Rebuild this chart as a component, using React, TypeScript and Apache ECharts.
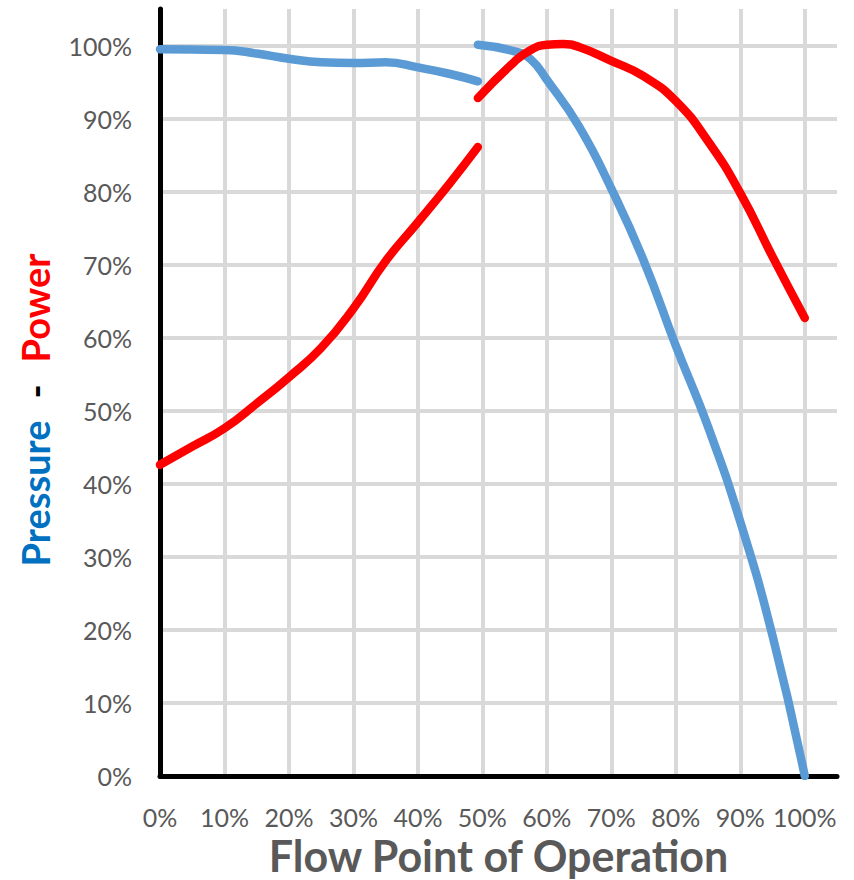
import React, { useEffect, useRef } from "react";
import * as echarts from "echarts";

// Flow point of operation (% of max flow) and curve values (%)
const pressureFlowA = [0, 5, 10, 15, 20, 25, 30, 35, 40, 45, 49.3];
const pressureA = [99.5, 99.45, 99.4, 98.9, 98.2, 97.7, 97.6, 97.7, 97.0, 96.1, 95.1];

const pressureFlowB = [49.3, 55, 57.5, 60, 65, 70, 75, 80, 85, 90, 95, 100];
const pressureB = [100.1, 99.2, 98.1, 95.3, 88.9, 80.4, 70.6, 58.9, 47.8, 34.8, 19.2, 0];

const powerFlowA = [0, 5, 10, 15, 20, 25, 30, 35, 40, 45, 49.3];
const powerA = [42.6, 45.1, 47.6, 51.0, 54.6, 58.6, 64.0, 70.5, 75.8, 81.2, 86.1];

const powerFlowB = [49.3, 55, 57.5, 60, 62.5, 65, 70, 75, 80, 85, 90, 95, 100];
const powerB = [92.8, 97.8, 99.4, 100.1, 100.2, 99.8, 97.9, 95.8, 92.4, 86.9, 79.8, 71.1, 62.7];

const xTitle = "Flow Point of Operation";
const yTitleParts = ["Pressure", "-", "Power"];

const pair = (xs: number[], ys: number[]) => xs.map((x, i) => [x, ys[i]]);

export default function App() {
  const ref = useRef<HTMLDivElement>(null);
  useEffect(() => {
    if (!ref.current) return;
    const chart = echarts.init(ref.current, null, { renderer: "svg" });
    const font = "Lato";
    const lineBase = (color: string) => ({
      type: "line" as const,
      smooth: 0.5,
      showSymbol: false,
      symbol: "none",
      lineStyle: { color, width: 8.5, cap: "round" as const, join: "round" as const },
      itemStyle: { color },
    });
    const axisLabel = {
      color: "#595959",
      fontSize: 25,
      fontFamily: font,
      formatter: (v: number) => (v > 100 ? "" : `${v}%`),
      showMaxLabel: false,
    };
    chart.setOption({
      animation: false,
      backgroundColor: "#ffffff",
      grid: { left: 160, right: 17, top: 9, bottom: 104, containLabel: false, outerBoundsMode: "none" },
      xAxis: {
        type: "value",
        min: 0,
        max: 105,
        interval: 10,
        axisLine: { show: true, onZero: false, lineStyle: { color: "#000000", width: 5 } },
        axisTick: { show: false },
        axisLabel: { ...axisLabel, margin: 28 },
        splitLine: { show: true, showMaxLine: false, lineStyle: { color: "#D9D9D9", width: 4 } },
        name: xTitle,
        nameLocation: "middle",
        nameGap: 52,
        nameTextStyle: {
          color: "#595959",
          fontSize: 43,
          lineHeight: 43,
          fontWeight: "bold",
          fontFamily: font,
        },
      },
      yAxis: {
        type: "value",
        min: 0,
        max: 105,
        interval: 10,
        axisLine: { show: true, lineStyle: { color: "#000000", width: 5 } },
        axisTick: { show: false },
        axisLabel: { ...axisLabel, margin: 28 },
        splitLine: { show: true, showMaxLine: false, lineStyle: { color: "#D9D9D9", width: 4 } },
      },
      graphic: [
        {
          type: "text",
          x: 35,
          y: 410,
          rotation: Math.PI / 2,
          style: {
            text: `{b|${yTitleParts[0]}}{k|${yTitleParts[1]}}{r|${yTitleParts[2]}}`,
            align: "center",
            verticalAlign: "middle",
            rich: {
              b: { fill: "#0070C0", fontSize: 38, fontWeight: "bold", fontFamily: font },
              k: { fill: "#000000", fontSize: 38, fontWeight: "bold", fontFamily: font, padding: [0, 22, 0, 22] },
              r: { fill: "#FF0000", fontSize: 38, fontWeight: "bold", fontFamily: font },
            },
          },
        },
      ],
      series: [
        { ...lineBase("#5B9BD5"), name: "Pressure A", data: pair(pressureFlowA, pressureA) },
        { ...lineBase("#5B9BD5"), name: "Pressure B", data: pair(pressureFlowB, pressureB) },
        { ...lineBase("#FF0000"), name: "Power A", data: pair(powerFlowA, powerA) },
        { ...lineBase("#FF0000"), name: "Power B", data: pair(powerFlowB, powerB) },
      ],
    });
    return () => chart.dispose();
  }, []);
  return (
    <div
      ref={ref}
      style={{ position: "fixed", left: 0, top: 0, width: 854, height: 880, background: "#fff" }}
    />
  );
}
